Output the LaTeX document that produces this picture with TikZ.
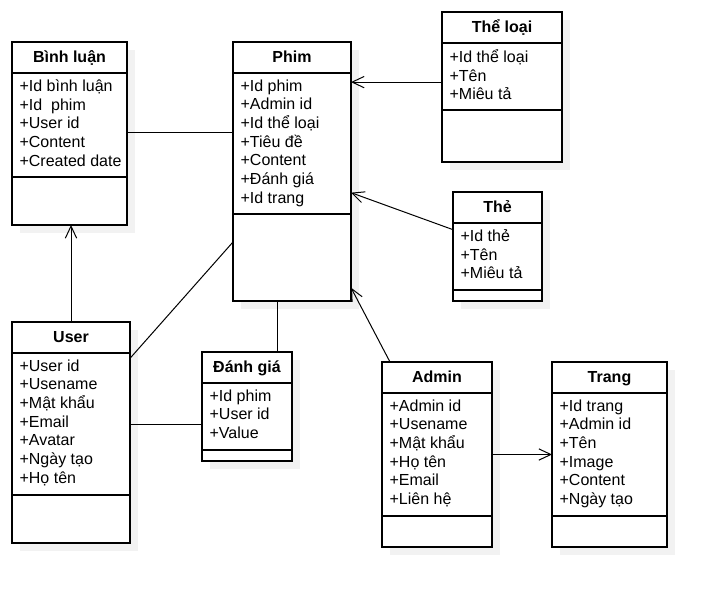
\documentclass[tikz,border=0pt]{standalone}
\usepackage{fontspec}
\setmainfont{Liberation Sans}
\usetikzlibrary{positioning,arrows.meta,calc}

\def\px{0.75pt}
\newcommand{\umlclass}[8]{%
  \fill[shade] (#2+8,#3+8) rectangle ++(#4,#5+#6+31);
  \node[classhead, minimum width=#4*\px, anchor=north west] (#1-h) at (#2,#3) {#7};
  \node[classbox, minimum width=#4*\px, minimum height=#5*\px, below=0pt of #1-h] (#1-a) {};
  \node[classbox, minimum width=#4*\px, minimum height=#6*\px, below=0pt of #1-a] (#1-o) {};
  \node[attrtext] (#1-t) at ([xshift=5.5pt,yshift=-4.8pt]#1-a.north west) {#8};
}

\begin{document}
\begin{tikzpicture}[x=\px,y=-\px,>={Straight Barb[length=9pt,width=8.5pt]},
  classhead/.style={draw,fill=white,line width=0.9pt,outer sep=0pt,inner sep=0pt,
    minimum height=31*\px,font=\fontsize{12}{14}\selectfont\bfseries,text height=8pt,text depth=1pt},
  classbox/.style={draw,fill=white,line width=0.9pt,outer sep=0pt,inner sep=0pt},
  attrtext/.style={anchor=north west,inner sep=0pt,align=left,
    font=\fontsize{12}{14}\selectfont,execute at begin node=\strut},
  link/.style={line width=0.75pt},
  shade/.style={fill=black!5}]
  \path[fill=white,use as bounding box] (0,0) rectangle (716,596);

  \umlclass{binhluan}{12}{42}{115}{104}{48}{Bình luận}{+Id bình luận\\+Id\ \ phim\\+User id\\+Content\\+Created date}
  \umlclass{phim}{233}{42}{118}{141}{87}{Phim}{+Id phim\\+Admin id\\+Id thể loại\\+Tiêu đề\\+Content\\+Đánh giá\\+Id trang}
  \umlclass{theloai}{442}{12}{120}{67}{52}{Thể loại}{+Id thể loại\\+Tên\\+Miêu tả}
  \umlclass{the}{453}{192}{89}{67}{11}{Thẻ}{+Id thẻ\\+Tên\\+Miêu tả}
  \umlclass{user}{12}{322}{118}{142}{48}{User}{+User id\\+Usename\\+Mật khẩu\\+Email\\+Avatar\\+Ngày tạo\\+Họ tên}
  \umlclass{danhgia}{202}{352}{90}{67}{11}{Đánh giá}{+Id phim\\+User id\\+Value}
  \umlclass{admin}{382}{362}{110}{123}{31}{Admin}{+Admin id\\+Usename\\+Mật khẩu\\+Họ tên\\+Email\\+Liên hệ}
  \umlclass{trang}{552}{362}{115}{123}{31}{Trang}{+Id trang\\+Admin id\\+Tên\\+Image\\+Content\\+Ngày tạo}

  \coordinate (c1) at ([yshift=-5.5pt]binhluan-a.east);
  \draw[link] (c1) -- (c1 -| phim-a.west);
  \coordinate (c2) at ([yshift=-4.2pt]theloai-a.west);
  \draw[link,->] (c2) -- (c2 -| phim-a.east);
  \draw[link,->] ([yshift=-5pt]the-a.north west) -- ([yshift=16pt]phim-a.south east);
  \draw[link,->] ([xshift=6pt]admin-h.north west) -- ([yshift=10pt]phim-o.south east);
  \draw[link,->] (user-h.north) -- (user-h.north |- binhluan-o.south);
  \draw[link] ([yshift=-4pt]user-a.north east) -- ([yshift=-21pt]phim-o.north west);
  \coordinate (c3) at ($(phim-o.south west)!0.38!(phim-o.south east)$);
  \draw[link] (c3) -- (c3 |- danhgia-h.north);
  \draw[link] (user-a.east) -- (user-a.east -| danhgia-a.west);
  \draw[link,->] (admin-a.east) -- (admin-a.east -| trang-a.west);
\end{tikzpicture}
\end{document}
